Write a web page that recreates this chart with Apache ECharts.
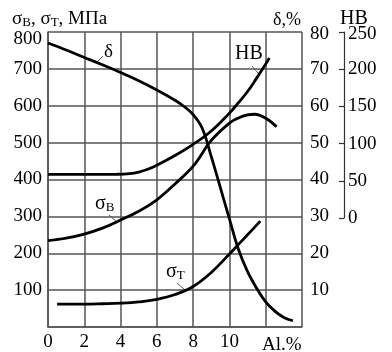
<!DOCTYPE html>
<html>
<head>
<meta charset="utf-8">
<script src="https://cdn.jsdelivr.net/npm/echarts@6/dist/echarts.min.js"></script>
<style>
  html, body { margin: 0; background: #fff; }
  #chart { width: 392px; height: 352px; }
</style>
</head>
<body>
<div id="chart"></div>
<script>
// содержание Al, %
const xTicks = [0, 2, 4, 6, 8, 10];

// δ, %
const elongX = [0, 1, 2, 3, 4, 5, 6, 7, 7.5, 8, 8.5, 9, 9.5, 10, 10.5, 11, 11.5, 12, 12.5, 13, 13.5];
const elong = [77, 75.1, 73.1, 71.1, 69.0, 66.8, 64.3, 61.5, 59.8, 57.6, 53.9, 46.2, 37.8, 29.3, 21, 15, 10.5, 6.8, 4.3, 2.6, 1.7];

// HB
const hbX = [0, 1, 2, 3, 3.8, 4.5, 5, 5.5, 6, 7, 8, 9, 10, 10.5, 11, 11.5, 12, 12.2];
const hb = [58.7, 58.7, 58.7, 58.7, 58.8, 59.6, 61.7, 65.5, 71, 84, 99, 117, 141, 155, 170, 188, 207, 215];

// σв, МПа
const sbX = [0, 1, 2, 3, 4, 5, 6, 7, 8, 9, 10, 10.5, 11, 11.4, 12, 12.6];
const sb = [234, 241, 252, 268, 290, 314, 345, 388, 436, 506, 553, 567, 575, 577, 566, 543];

// σт, МПа
const stX = [0.5, 1, 2, 3, 4, 5, 6, 7, 8, 9, 10, 10.5, 11, 11.7];
const st = [62, 62, 62, 63, 64.5, 68, 75, 88, 110, 148, 198, 224, 250, 287];

const font = "'Liberation Serif', 'DejaVu Serif', serif";
const gridLine = { color: '#555', width: 1.5 };
const subRich = { s: { fontFamily: font, fontSize: 13, verticalAlign: 'bottom', padding: [7, 0, 0, 0] } };

const pairs = (xs, ys) => xs.map((x, i) => [x, ys[i]]);

const curve = (name, data, xi, yi) => ({
    name: name,
    type: 'line',
    xAxisIndex: xi,
    yAxisIndex: yi,
    data: data,
    smooth: 0.4,
    showSymbol: false,
    silent: true,
    lineStyle: { color: '#000', width: 2.8 }
});

const chart = echarts.init(document.getElementById('chart'));

chart.setOption({
    animation: false,
    grid: [
        { left: 48, right: 90, top: 32, bottom: 22 },
        { left: 48, right: 90, top: 32, height: 186 }
    ],
    xAxis: [
        {
            type: 'value', gridIndex: 0, min: 0, max: 14, interval: 2,
            axisLine: { lineStyle: gridLine },
            axisTick: { show: false },
            splitLine: { lineStyle: gridLine },
            axisLabel: {
                margin: 6, color: '#000', fontFamily: font, fontSize: 19,
                formatter: v => xTicks.includes(v) ? String(v) : ''
            }
        },
        { type: 'value', gridIndex: 1, min: 0, max: 14, show: false }
    ],
    yAxis: [
        {
            type: 'value', gridIndex: 0, min: 0, max: 800, interval: 100,
            axisLine: { show: true, onZero: false, lineStyle: gridLine },
            axisTick: { show: false },
            splitLine: { lineStyle: gridLine },
            axisLabel: {
                margin: 6, color: '#000', fontFamily: font, fontSize: 19,
                formatter: v => v === 0 ? '' : (v === 800 ? '{t|800}' : String(v)),
                rich: { t: { fontFamily: font, fontSize: 19, padding: [14, 0, 0, 0] } }
            }
        },
        {
            type: 'value', gridIndex: 0, position: 'right', min: 0, max: 80, interval: 10,
            axisLine: { show: false },
            axisTick: { show: false },
            splitLine: { show: false },
            axisLabel: {
                margin: 8, color: '#000', fontFamily: font, fontSize: 19,
                formatter: v => v === 0 ? '' : (v === 80 ? '{t|80}' : String(v)),
                rich: { t: { fontFamily: font, fontSize: 19, padding: [4, 0, 0, 0] } }
            }
        },
        {
            type: 'value', gridIndex: 1, position: 'right', offset: 42,
            min: 0, max: 250, interval: 50,
            axisLine: { show: true, onZero: false, lineStyle: { color: '#333', width: 1.2 } },
            axisTick: { show: true, inside: true, length: 5, lineStyle: { color: '#333', width: 1.2 } },
            splitLine: { show: false },
            axisLabel: {
                margin: 4, color: '#000', fontFamily: font, fontSize: 19,
                formatter: v => v === 250 ? '{t|250}' : String(v),
                rich: { t: { fontFamily: font, fontSize: 19, padding: [4, 0, 0, 0] } }
            }
        }
    ],
    graphic: [
        {
            type: 'text', left: 12, top: 10,
            style: { text: 'σ{s|B}, σ{s|T}, МПа', font: '19px ' + font, fill: '#000', rich: subRich }
        },
        { type: 'text', left: 273, top: 11, style: { text: 'δ,%', font: '18px ' + font, fill: '#000' } },
        { type: 'text', left: 340, top: 9, style: { text: 'HB', font: '20px ' + font, fill: '#000' } },
        { type: 'text', left: 262, top: 336, style: { text: 'Al.%', font: '19px ' + font, fill: '#000' } },

        // подписи кривых
        { type: 'text', left: 104, top: 43, style: { text: 'δ', font: '19px ' + font, fill: '#000' } },
        { type: 'line', shape: { x1: 96, y1: 63, x2: 103, y2: 56 }, style: { stroke: '#555', lineWidth: 1 } },
        { type: 'text', left: 235, top: 44, style: { text: 'HB', font: '20px ' + font, fill: '#000' } },
        { type: 'line', shape: { x1: 252, y1: 66, x2: 258, y2: 73 }, style: { stroke: '#555', lineWidth: 1 } },
        {
            type: 'text', left: 95, top: 194,
            style: { text: 'σ{s|B}', font: '20px ' + font, fill: '#000', rich: subRich }
        },
        { type: 'line', shape: { x1: 109, y1: 215, x2: 117, y2: 222 }, style: { stroke: '#555', lineWidth: 1 } },
        {
            type: 'text', left: 166, top: 262,
            style: { text: 'σ{s|T}', font: '20px ' + font, fill: '#000', rich: subRich }
        },
        { type: 'line', shape: { x1: 177, y1: 283, x2: 185, y2: 290 }, style: { stroke: '#555', lineWidth: 1 } }
    ],
    series: [
        curve('δ', pairs(elongX, elong), 0, 1),
        curve('HB', pairs(hbX, hb), 1, 2),
        curve('σB', pairs(sbX, sb), 0, 0),
        curve('σT', pairs(stX, st), 0, 0)
    ]
});
</script>
</body>
</html>
